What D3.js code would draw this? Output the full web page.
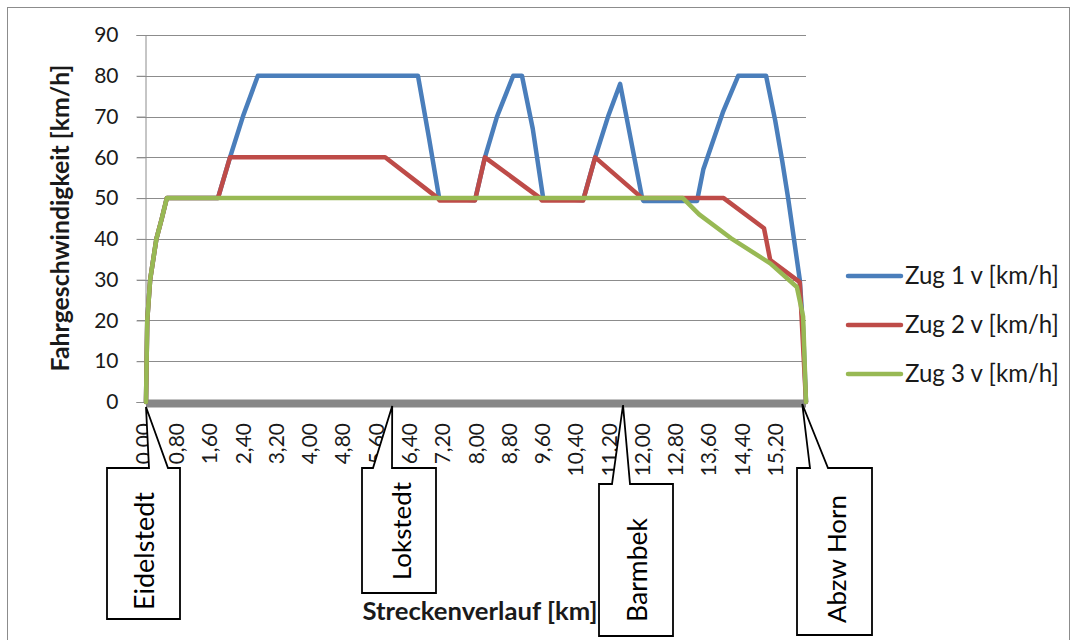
<!DOCTYPE html>
<html><head><meta charset="utf-8">
<script src="https://cdn.jsdelivr.net/npm/d3@7"></script>
<style>body{margin:0;background:#fff}svg{display:block}</style>
</head><body><svg id="c" width="1077" height="640"></svg>
<script>
// ---- data ----
const seriesNames = ["Zug 1 v [km/h]", "Zug 2 v [km/h]", "Zug 3 v [km/h]"];
const zug1Km = [0, 0.03, 0.1, 0.25, 0.38, 0.5, 1.73, 2.02, 2.33, 2.69, 6.54, 6.80, 7.05, 7.91, 8.15, 8.44, 8.83, 9.04, 9.30, 9.55, 10.51, 10.80, 11.11, 11.40, 11.93, 11.96, 13.25, 13.40, 13.87, 14.24, 14.91, 15.13, 15.30, 15.44, 15.58, 15.72, 15.80, 15.87];
const zug1V  = [0, 20, 30, 40, 45, 50, 50, 60, 70, 80, 80, 65, 50, 49.5, 60, 70, 80, 80, 67, 50, 49.5, 60, 70, 78, 50, 49.3, 49.3, 57, 71, 80, 80, 69, 59, 50, 40, 30, 18, 0];
const zug2Km = [0, 0.03, 0.1, 0.25, 0.38, 0.5, 1.73, 2.02, 5.75, 7.02, 7.06, 7.91, 8.15, 9.48, 9.52, 10.51, 10.80, 11.93, 13.89, 14.86, 15.01, 15.72, 15.87];
const zug2V  = [0, 20, 30, 40, 45, 50, 50, 60, 60, 50, 49.4, 49.4, 60, 50, 49.4, 49.4, 60, 50, 50, 42.6, 34.8, 29.4, 0];
const zug3Km = [0, 0.03, 0.1, 0.25, 0.38, 0.5, 12.91, 13.30, 14.06, 15.01, 15.65, 15.80, 15.87];
const zug3V  = [0, 20, 30, 40, 45, 50, 50, 46, 40.2, 34, 28.2, 21, 0];
const yTicks = [0, 10, 20, 30, 40, 50, 60, 70, 80, 90];
const xTickKm = [0, 0.8, 1.6, 2.4, 3.2, 4.0, 4.8, 5.6, 6.4, 7.2, 8.0, 8.8, 9.6, 10.4, 11.2, 12.0, 12.8, 13.6, 14.4, 15.2];
const xTickLabels = ["0,00","0,80","1,60","2,40","3,20","4,00","4,80","5,60","6,40","7,20","8,00","8,80","9,60","10,40","11,20","12,00","12,80","13,60","14,40","15,20"];
const stations = ["Eidelstedt", "Lokstedt", "Barmbek", "Abzw Horn"];
const stationKm = [0, 5.92, 11.47, 15.78];

// ---- layout ----
const FONT = "Lato, 'Open Sans', sans-serif";
const colors = ["#4A7EBB", "#BE4B48", "#98B954"];
const plot = {left: 146, right: 806, top: 35, bottom: 402};
const callouts = [
  {l:107, r:180, t:468, b:619, wl:149, wr:168, tipY:407, tx:145, ty:551, len:118},
  {l:362, r:436, t:468, b:593, wl:373, wr:392, tipY:406, tx:402, ty:531, len:98},
  {l:599, r:673, t:484, b:636, wl:612, wr:630, tipY:405, tx:638, ty:570, len:104},
  {l:797, r:872, t:468, b:635, wl:810, wr:828, tipY:404, tx:837, ty:559, len:128}
];

const svg = d3.select("#c");
svg.append("rect").attr("x", 7.5).attr("y", 7.5).attr("width", 1062).attr("height", 700)
  .attr("fill", "#fff").attr("stroke", "#8c8c8c").attr("stroke-width", 1);

const x = d3.scaleLinear().domain([0, 15.87]).range([plot.left, plot.right]);
const y = d3.scaleLinear().domain([0, 90]).range([plot.bottom, plot.top]);

function fit(sel, target) {
  sel.style("font-size", "20px");
  const len = sel.node().getComputedTextLength();
  sel.style("font-size", (20 * target / len) + "px");
}

// grid
svg.append("g").selectAll("line").data(yTicks.filter(d => d > 0)).join("line")
  .attr("x1", plot.left - 9).attr("x2", plot.right)
  .attr("y1", d => Math.round(y(d)) + 0.5).attr("y2", d => Math.round(y(d)) + 0.5)
  .attr("stroke", "#8c8c8c").attr("stroke-width", 1);

// y axis
const yAxis = d3.axisLeft(y).tickValues(yTicks).tickSize(9).tickPadding(18).tickFormat(d3.format("d"));
const gy = svg.append("g").attr("transform", `translate(${plot.left - 0.5},0)`).call(yAxis);
gy.select(".domain").attr("stroke", "#8c8c8c");
gy.selectAll(".tick line").attr("stroke", "#8c8c8c");
gy.selectAll(".tick text").style("font-family", FONT).style("font-size", "21px").attr("fill", "#1a1a1a");

// x axis labels
const xAxis = d3.axisBottom(x).tickValues(xTickKm).tickSize(0).tickFormat((d, i) => xTickLabels[i]);
const gx = svg.append("g").attr("transform", `translate(0,${plot.bottom})`).call(xAxis);
gx.select(".domain").remove();
gx.selectAll(".tick text")
  .style("font-family", FONT).style("font-size", "21px").attr("fill", "#1a1a1a")
  .attr("text-anchor", "end").attr("transform", "rotate(-90)")
  .attr("x", -21).attr("y", -3).attr("dy", "0.35em");

// x axis thick bar
svg.append("line").attr("x1", plot.left).attr("x2", plot.right)
  .attr("y1", plot.bottom + 1.5).attr("y2", plot.bottom + 1.5)
  .attr("stroke", "#878787").attr("stroke-width", 8);

// series
const line = d3.line().x(d => x(d[0])).y(d => y(d[1]));
const series = [
  d3.zip(zug1Km, zug1V),
  d3.zip(zug2Km, zug2V),
  d3.zip(zug3Km, zug3V)
];
svg.append("g").selectAll("path").data(series).join("path")
  .attr("d", line).attr("fill", "none")
  .attr("stroke", (d, i) => colors[i]).attr("stroke-width", 4.5)
  .attr("stroke-linejoin", "round").attr("stroke-linecap", "round");

// legend
const leg = svg.append("g");
const legY = [276, 325, 374];
seriesNames.forEach((n, i) => {
  leg.append("line").attr("x1", 848).attr("x2", 901).attr("y1", legY[i]).attr("y2", legY[i])
    .attr("stroke", colors[i]).attr("stroke-width", 4.5).attr("stroke-linecap", "round");
  const t = leg.append("text").attr("x", 905).attr("y", legY[i]).attr("dy", "0.35em")
    .style("font-family", FONT).attr("fill", "#1a1a1a").text(n);
  fit(t, 154);
});

// axis titles
const yt = svg.append("text").attr("transform", "translate(60,218) rotate(-90)")
  .attr("text-anchor", "middle").attr("dy", "0.35em")
  .style("font-family", FONT).style("font-weight", "bold").attr("fill", "#1a1a1a")
  .text("Fahrgeschwindigkeit [km/h]");
fit(yt, 307);
const xt = svg.append("text").attr("x", 480).attr("y", 611)
  .attr("text-anchor", "middle").attr("dy", "0.35em")
  .style("font-family", FONT).style("font-weight", "bold").attr("fill", "#1a1a1a")
  .text("Streckenverlauf [km]");
fit(xt, 235);

// callouts
stations.forEach((s, i) => {
  const c = callouts[i];
  const tipX = x(stationKm[i]);
  const p = d3.path();
  p.moveTo(c.l, c.t); p.lineTo(c.wl, c.t); p.lineTo(tipX, c.tipY); p.lineTo(c.wr, c.t);
  p.lineTo(c.r, c.t); p.lineTo(c.r, c.b); p.lineTo(c.l, c.b); p.closePath();
  svg.append("path").attr("d", p.toString()).attr("fill", "#fff")
    .attr("stroke", "#000").attr("stroke-width", 1.8).attr("stroke-linejoin", "miter");
  const t = svg.append("text").attr("transform", `translate(${c.tx},${c.ty}) rotate(-90)`)
    .attr("text-anchor", "middle").attr("dy", "0.35em")
    .style("font-family", FONT).attr("fill", "#000").text(s);
  fit(t, c.len);
});
</script></body></html>
